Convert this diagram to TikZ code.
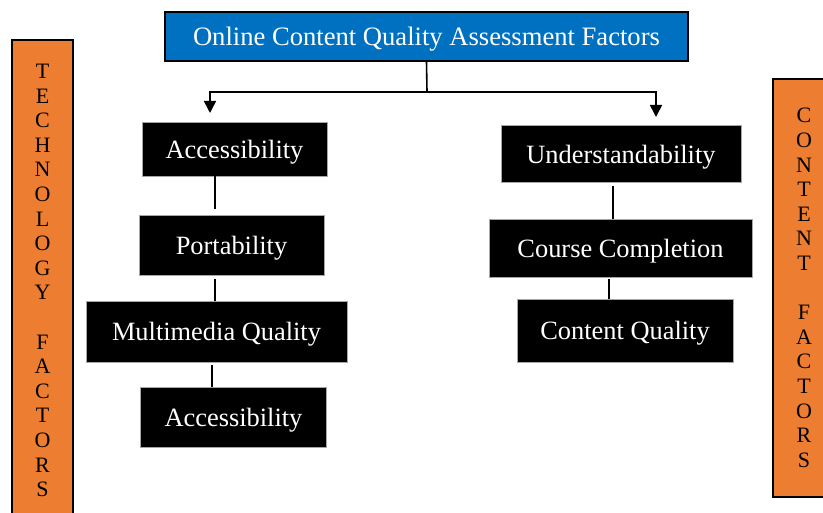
\documentclass[tikz,border=0pt]{standalone}
\usepackage{fontspec}
\setmainfont{Liberation Serif}
\usepackage{xcolor}
\usepackage{tikz}
\usetikzlibrary{arrows.meta}
\definecolor{titleblue}{HTML}{0070C0}
\definecolor{barorange}{HTML}{ED7D31}

\begin{document}
\begin{tikzpicture}[x=0.5pt,y=-0.5pt,
  factor/.style={draw=gray!70,line width=.4pt,fill=black,text=white,inner sep=0pt,
    text depth=0pt,font=\fontsize{13.2}{15}\selectfont},
  bar/.style={draw=black,line width=.8pt,fill=barorange,inner sep=0pt,align=center,
    font=\fontsize{11}{12.3}\selectfont},
  link/.style={line width=.8pt}]
\useasboundingbox (0,0) rectangle (823,513);
% main title
\node[draw=black,line width=.8pt,fill=titleblue,text=white,inner sep=0pt,text depth=0pt,
  minimum width=261.5pt,minimum height=24.5pt,font=\fontsize{13.3}{15}\selectfont]
  (title) at (426.5,36.5) {Online Content Quality Assessment Factors};
% side bars
\node[bar,minimum width=30.5pt,minimum height=240.5pt] (techbar) at (42.5,280.5)
  {T\\E\\C\\H\\N\\O\\L\\O\\G\\Y\\[12.3pt]F\\A\\C\\T\\O\\R\\S};
\node[bar,minimum width=31pt,minimum height=209pt] (contbar) at (804,288)
  {C\\O\\N\\T\\E\\N\\T\\[12.3pt]F\\A\\C\\T\\O\\R\\S};
% technology column
\node[factor,minimum width=92.5pt,minimum height=27pt] (acc) at (234.5,149) {Accessibility};
\node[factor,minimum width=92.5pt,minimum height=30pt] (port) at (231.5,245) {Portability};
\node[factor,minimum width=130.5pt,minimum height=30.5pt] (multi) at (216.5,331.5) {Multimedia Quality};
\node[factor,minimum width=93pt,minimum height=30pt] (acctwo) at (233.5,417) {Accessibility};
% content column
\node[factor,minimum width=120pt,minimum height=28.5pt] (under) at (621,154) {Understandability};
\node[factor,minimum width=131.5pt,minimum height=29pt] (course) at (620.5,248) {Course Completion};
\node[factor,minimum width=108pt,minimum height=31.5pt] (contq) at (625,330.5) {Content Quality};
% split arrows
\coordinate (split) at (427,92);
\coordinate (ltip) at (210,113);
\coordinate (rtip) at (656,117);
\draw[link] (title.south) -- (split);
\draw[link,-{Triangle[width=6pt,length=6pt]}] (split) -| (ltip);
\draw[link,-{Triangle[width=6pt,length=6pt]}] (split) -| (rtip);
% links
\draw[link,shorten >=3pt] ([xshift=-9.75pt]acc.south) -- ([xshift=-9.75pt]acc.south |- port.north);
\draw[link,shorten <=2pt] ([xshift=-8.25pt]port.south) -- ([xshift=-8.25pt]port.south |- multi.north);
\draw[link,shorten <=1.5pt] ([xshift=-2.25pt]multi.south) -- ([xshift=-2.25pt]multi.south |- acctwo.north);
\draw[link,shorten <=1.5pt] ([xshift=-4pt]under.south) -- ([xshift=-4pt]under.south |- course.north);
\draw[link,shorten <=1pt] ([xshift=-5.75pt]course.south) -- ([xshift=-5.75pt]course.south |- contq.north);
\end{tikzpicture}
\end{document}
